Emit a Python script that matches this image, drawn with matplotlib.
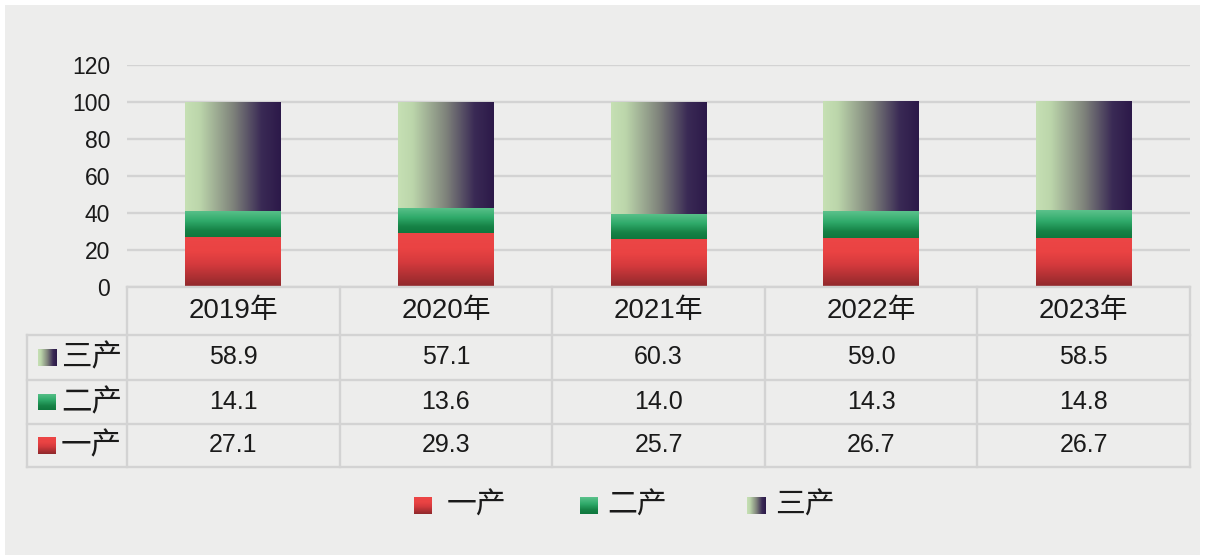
import numpy as np
import matplotlib
matplotlib.use('Agg')
import matplotlib.pyplot as plt
from matplotlib.colors import LinearSegmentedColormap
from matplotlib.transforms import blended_transform_factory
from matplotlib.lines import Line2D
from matplotlib.patches import Rectangle

plt.rcParams['font.family'] = ['Liberation Sans', 'Noto Sans CJK SC']

# ---------------- data ----------------
years = ['2019年', '2020年', '2021年', '2022年', '2023年']
primary = [27.1, 29.3, 25.7, 26.7, 26.7]      # 一产
secondary = [14.1, 13.6, 14.0, 14.3, 14.8]    # 二产
tertiary = [58.9, 57.1, 60.3, 59.0, 58.5]     # 三产
series_names = ['一产', '二产', '三产']
yticks = [0, 20, 40, 60, 80, 100, 120]

# ---------------- styles ----------------
W, H = 1206, 555
TXT = '#1a1a1a'
LINE = '#d3d3d3'
cm_red = LinearSegmentedColormap.from_list('r', [(0, '#8e282b'), (0.45, '#d53a3d'), (0.7, '#ea4343'), (1, '#ec4646')])
cm_green = LinearSegmentedColormap.from_list('g', [(0, '#0f773d'), (0.25, '#168246'), (0.6, '#2faa6a'), (1, '#5cc28c')])
cm_purple = LinearSegmentedColormap.from_list('p', [(0, '#c6e0b4'), (0.15, '#bcd6ab'), (0.5, '#7f837b'), (0.8, '#3a2a55'), (1, '#2c1949')])
vgrad = np.linspace(0, 1, 256).reshape(-1, 1)
hgrad = np.linspace(0, 1, 256).reshape(1, -1)


def fx(px):
    return px / W


def fy(py):
    return 1 - py / H


fig = plt.figure(figsize=(W / 100, H / 100), dpi=100)
fig.patch.set_facecolor('white')
fig.patches.append(Rectangle((fx(5), 0), fx(1200) - fx(5), fy(5), transform=fig.transFigure,
                             facecolor='#ededec', edgecolor='none', zorder=-10))

ax = fig.add_axes([fx(127), fy(287), fx(1190) - fx(127), (287 - 65) / H])
ax.patch.set_alpha(0)
for s in ax.spines.values():
    s.set_visible(False)

x = np.arange(len(years))
bw = 0.45
series = [(primary, cm_red, 'v'), (secondary, cm_green, 'v'), (tertiary, cm_purple, 'h')]
bottom = np.zeros(len(years))
for vals, cmap, orient in series:
    bars = ax.bar(x, vals, bw, bottom=bottom, color='none', edgecolor='none')
    for b in bars:
        x0, y0, w, h = b.get_x(), b.get_y(), b.get_width(), b.get_height()
        g = vgrad if orient == 'v' else hgrad
        ax.imshow(g, extent=[x0, x0 + w, y0, y0 + h], aspect='auto', cmap=cmap,
                  origin='lower', zorder=2, interpolation='bilinear')
    bottom = bottom + np.array(vals)

ax.set_xlim(-0.5, len(years) - 0.5)
ax.set_ylim(0, 120)
ax.set_yticks(yticks)
ax.set_xticks([])
ax.tick_params(axis='y', length=0, pad=12, labelsize=16.5, labelcolor=TXT)
ax.grid(axis='y', color=LINE, lw=1.7)
ax.set_axisbelow(True)

# ---------------- data table ----------------
bt = blended_transform_factory(ax.transData, fig.transFigure)
rows_y = [287, 335, 380, 424, 467]
lkw = dict(color=LINE, lw=1.7, zorder=1)
# horizontal lines
fig.add_artist(Line2D([fx(127), fx(1190)], [fy(287), fy(287)], transform=fig.transFigure, **lkw))
for ry in rows_y[1:]:
    fig.add_artist(Line2D([fx(27), fx(1190)], [fy(ry), fy(ry)], transform=fig.transFigure, **lkw))
# vertical lines
fig.add_artist(Line2D([fx(27), fx(27)], [fy(335), fy(467)], transform=fig.transFigure, **lkw))
for i in range(len(years) + 1):
    fig.add_artist(Line2D([i - 0.5, i - 0.5], [fy(287), fy(467)], transform=bt, **lkw))

# header
for i, yr in enumerate(years):
    fig.text(i, fy(311), yr, transform=bt, ha='center', va='center', fontsize=20, color=TXT)

table_rows = [('三产', tertiary, cm_purple, 'h'), ('二产', secondary, cm_green, 'v'), ('一产', primary, cm_red, 'v')]
for r, (name, vals, cmap, orient) in enumerate(table_rows):
    cy = (rows_y[r + 1] + rows_y[r + 2]) / 2
    for i, v in enumerate(vals):
        fig.text(i, fy(cy), f'{v:.1f}', transform=bt, ha='center', va='center', fontsize=18, color=TXT)
    sq = fig.add_axes([fx(38), fy(cy + 8.5), fx(18), 17 / H])
    sq.imshow(vgrad if orient == 'v' else hgrad, cmap=cmap, origin='lower', aspect='auto')
    sq.axis('off')
    fig.text(fx(61), fy(cy + 1), name, ha='left', va='center', fontsize=22, color=TXT)

# ---------------- legend ----------------
leg = [(series_names[0], cm_red, 'v', 414, 447), (series_names[1], cm_green, 'v', 580, 607),
       (series_names[2], cm_purple, 'h', 747, 775)]
for name, cmap, orient, sx, tx in leg:
    sq = fig.add_axes([fx(sx), fy(514), fx(18), 17 / H])
    sq.imshow(vgrad if orient == 'v' else hgrad, cmap=cmap, origin='lower', aspect='auto')
    sq.axis('off')
    fig.text(fx(tx), fy(506), name, ha='left', va='center', fontsize=21.5, color=TXT)

fig.savefig('out.png', dpi=100, facecolor=fig.get_facecolor())
